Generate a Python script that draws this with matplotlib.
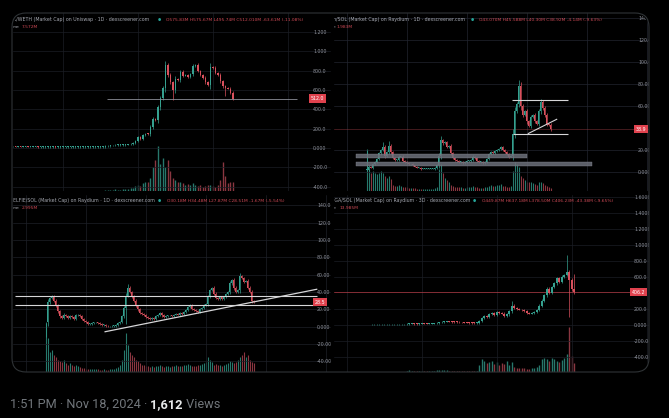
import numpy as np
import matplotlib
matplotlib.use("Agg")
import matplotlib.pyplot as plt
from matplotlib.patches import Rectangle, FancyBboxPatch, Polygon
from matplotlib.transforms import blended_transform_factory

W, H = 669, 418

# ---- panel 1: K/WETH, market cap in M ----
p1_close = [16, 15, 15, 14, 14, 14, 13, 13, 13, 13, 12, 12, 12, 12, 12, 12, 12, 11, 11, 11,
            11, 11, 11, 11, 11, 11, 11, 11, 11, 11, 11, 11, 11, 11, 11, 12, 12,
            18, 22, 26, 28, 30, 31, 32, 33, 35, 38, 42,
            55, 75, 110, 95, 130, 150, 145, 220, 300, 290, 420, 520, 620, 860, 760, 680, 600,
            720, 700, 790, 750, 760, 740, 770, 850, 860, 800, 760, 730, 680, 650, 840, 830,
            780, 760, 690, 640, 620, 615, 575, 512]
p1_volume = [1, 1, 1, 1, 1, 1, 1, 1, 1, 1, 1, 1, 1, 1, 1, 1, 1, 1, 1, 1,
             1, 1, 1, 1, 1, 1, 1, 1, 1, 1, 1, 1, 1, 1, 1, 2, 2,
             3, 4, 4, 3, 5, 4, 4, 5, 6, 5, 7,
             8, 12, 15, 12, 18, 20, 22, 30, 55, 70, 100, 60, 75, 55, 70, 45, 30,
             25, 20, 22, 18, 15, 16, 14, 18, 15, 12, 14, 10, 12, 15, 14, 12,
             10, 15, 25, 65, 35, 18, 22, 20]
p1_wicks = {61: (905, None), 64: (None, 500), 85: (None, 540)}

# ---- panel 2: n/SOL ----
p2_close = [2, 5, 4, 7, 9, 12, 17, 20, 23, 15, 18, 24, 18, 13, 11, 11, 14, 14, 10, 9,
            8, 7, 7, 6, 5, 4, 4, 3, 3, 3, 3, 3, 3, 3, 4, 6, 15, 29, 26, 27,
            23, 24, 17, 13, 11, 10, 9, 9, 8, 9, 10, 10, 11, 14, 13, 10, 9, 9, 8, 9,
            12, 16, 18, 17, 19, 20, 21, 23, 20, 18, 16, 14, 15, 35, 55, 62, 78, 60, 52, 55,
            46, 42, 50, 52, 46, 44, 55, 64, 58, 52, 44, 43, 38.9]
p2_volume = [95, 50, 40, 45, 40, 38, 40, 45, 42, 35, 30, 35, 28, 15, 12, 12, 14, 12, 10, 9,
             9, 8, 8, 7, 7, 6, 6, 6, 5, 5, 5, 5, 6, 6, 7, 10, 50, 60, 40, 30,
             25, 20, 15, 12, 10, 10, 9, 9, 8, 8, 9, 9, 10, 12, 11, 9, 8, 8, 8, 9,
             11, 13, 14, 12, 13, 14, 15, 16, 13, 12, 10, 9, 12, 45, 65, 60, 55, 35, 30, 25,
             22, 20, 22, 18, 16, 15, 20, 22, 18, 15, 12, 10, 8]
p2_wicks = {0: (20, None), 8: (27, None), 11: (28, None), 37: (33, None), 76: (84, None)}

# ---- panel 3: ELFIE/SOL ----
p3_close = [5, 28, 33, 35, 30, 24, 18, 12, 10, 14, 12, 10, 12, 11, 9, 13, 14, 12, 9, 7,
            5, 3, 3, 4, 5, 5, 4, 3, 2, 2, 1, 0.5, 0.5, 1, 1, 2, 4, 6, 12, 22,
            36, 45, 40, 35, 30, 24, 20, 16, 15, 13, 11, 10, 9, 10, 9, 12, 14, 16, 13, 11,
            12, 13, 13, 12, 14, 15, 14, 16, 15, 17, 19, 23, 25, 21, 19, 18, 17, 20, 22, 25,
            26, 35, 42, 45, 38, 33, 32, 34, 32, 34, 38, 40, 50, 54, 45, 40, 42, 58, 56, 52,
            53, 45, 40, 30, 28.5]
p3_volume = [100, 70, 40, 45, 35, 30, 25, 22, 20, 25, 18, 15, 18, 15, 12, 14, 12, 10, 8, 8,
             7, 7, 6, 6, 7, 6, 6, 5, 5, 6, 5, 5, 6, 6, 7, 8, 10, 15, 25, 45,
             80, 55, 40, 35, 30, 25, 22, 18, 15, 14, 12, 12, 11, 12, 10, 12, 13, 14, 12, 11,
             12, 13, 11, 12, 13, 14, 12, 13, 12, 14, 15, 16, 14, 13, 12, 12, 14, 15, 16, 18,
             20, 30, 25, 20, 15, 16, 14, 15, 13, 14, 16, 18, 22, 20, 18, 20, 25, 30, 35, 40,
             30, 35, 25, 20, 18]
p3_wicks = {0: (None, -12), 40: (None, 3), 41: (49, None), 97: (62, None)}

# ---- panel 4: IGA/SOL ----
p4_close = [3, 3, 3, 3, 3, 3, 3, 3, 4, 4, 4, 5, 5, 6,
            10, 12, 12, 11, 10, 12, 14, 13, 12, 12,
            14, 18, 22, 28, 35, 40, 42, 38, 36, 35,
            32, 30, 28, 26, 25, 24, 23, 22, 24,
            45, 80, 110, 95, 130, 145, 120, 160, 150, 140,
            110, 130, 170, 240, 210, 200, 190, 180, 170, 150,
            140, 145, 165, 190, 240, 300, 370, 450, 400, 470,
            520, 580, 540, 600, 620, 660, 560, 450, 406]
p4_volume = [1, 1, 1, 1, 1, 1, 1, 1, 1, 1, 1, 1, 1, 1,
             3, 4, 3, 2, 2, 3, 3, 2, 2, 2,
             3, 3, 4, 4, 5, 5, 4, 3, 3, 3,
             2, 2, 2, 2, 2, 2, 2, 2, 3,
             15, 30, 25, 20, 22, 25, 18, 22, 15, 20,
             18, 25, 15, 22, 12, 10, 10, 8, 8, 6,
             6, 8, 10, 12, 15, 28, 32, 30, 25, 32,
             28, 24, 22, 26, 32, 40, 100, 35, 20]
p4_wicks = {56: (300, None), 78: (870, None), 79: (None, 100), 81: (637, 378)}

GREEN, RED = "#35a08f", "#d8505c"
VGREEN, VRED = "#27786c", "#8a3640"

fig = plt.figure(figsize=(W / 100, H / 100), dpi=100, facecolor="black")


def panel(box, bg, grid, close, volume, wicks, x_first, step, ylim, ticks, labels,
          label_x, last_text, vol_px):
    x0, y0, x1, y1 = box
    rect = [x0 / W, 1 - y1 / H, (x1 - x0) / W, (y1 - y0) / H]
    xlim = ((x0 - x_first) / step, (x1 - x_first) / step)

    vax = fig.add_axes(rect)
    vax.set_facecolor(bg)
    ax = fig.add_axes(rect)
    ax.patch.set_alpha(0)

    n = len(close)
    x = np.arange(n)
    c = np.array(close, dtype=float)
    o = np.concatenate([[c[0]], c[:-1]])
    up = c >= o
    span = ylim[1] - ylim[0]
    hi = np.maximum(o, c) + 0.15 * np.abs(c - o) + 0.004 * span
    lo = np.minimum(o, c) - 0.15 * np.abs(c - o) - 0.004 * span
    for k, (h, l) in wicks.items():
        if h is not None:
            hi[k] = h
        if l is not None:
            lo[k] = l
    cols = [GREEN if u else RED for u in up]
    vcols = [VGREEN if u else VRED for u in up]

    # volume as thin vertical segments so narrow bars keep their colour
    vax.vlines(x, 0, volume, colors=vcols, linewidth=step * 0.55 * 0.72)
    vax.set_xlim(xlim)
    vax.set_ylim(0, 100 * (y1 - y0) / vol_px)
    vax.axis("off")

    ax.vlines(x, lo, hi, colors=cols, linewidth=0.5, zorder=3)
    body = np.maximum(np.abs(c - o), 0.004 * span)
    ax.bar(x, body, bottom=np.minimum(o, c), width=0.7, color=cols, linewidth=0, zorder=4)

    ax.set_yticks(ticks)
    ax.set_yticklabels(labels)
    ax.set_xticks(np.arange(-40, 200, 30))
    ax.set_xlim(xlim)
    ax.set_ylim(ylim)
    ax.yaxis.tick_right()
    ax.tick_params(axis="y", length=0, pad=-(x1 - label_x) * 0.72,
                   labelsize=3.4, labelcolor="#8f929b")
    ax.tick_params(axis="x", length=0, labelbottom=False)
    ax.grid(True, color=grid, linewidth=0.5)
    ax.set_axisbelow(True)
    for s in ax.spines.values():
        s.set_visible(False)

    tr = blended_transform_factory(ax.transAxes, ax.transData)
    ax.text((label_x - 2 - x0) / (x1 - x0), close[-1], last_text, transform=tr,
            ha="left", va="center", fontsize=3.4, color="white", zorder=6,
            bbox=dict(boxstyle="square,pad=0.35", fc="#e0424e", ec="none"))
    return ax


ax1 = panel((12, 13, 331, 191.5), "#131419", "#1b1d24", p1_close, p1_volume, p1_wicks,
            13, 2.5, (-451, 1399), list(range(-400, 1201, 200)),
            ["-400.0", "-200.0", "0.000", "200.0", "400.0", "600.0", "800.0", "1.000", "1.200"],
            313, "512.0", 45)
ax1.hlines(512, 37.6, 113.6, color="#8b8e97", linewidth=0.6, zorder=5)

ax2 = panel((333, 13, 649, 191.5), "#191c27", "#22252f", p2_close, p2_volume, p2_wicks,
            366.7, 2.0, (-17.7, 144.5), [0, 20, 60, 80, 100, 120, 140],
            ["0.000", "20.00", "60.00", "80.00", "100.0", "120.0", "140.0"],
            638, "38.9", 45)
ax2.axhline(38.9, color="#a8404a", linewidth=0.4, alpha=0.7, zorder=2)
ax2.add_patch(Rectangle((-5.3, 13.1), 85.6, 3.4, fc="#6c6f7a", ec="#8a8d96",
                        linewidth=0.3, alpha=0.85, zorder=5))
ax2.add_patch(Rectangle((-5.3, 5.8), 117.8, 3.6, fc="#6c6f7a", ec="#8a8d96",
                        linewidth=0.3, alpha=0.85, zorder=5))
ax2.hlines([65, 35], [72.5, 73], [100.8, 100.8], color="#d6d6d8", linewidth=0.8, zorder=5)
ax2.plot([80.8, 95], [35, 47.9], color="#d6d6d8", linewidth=0.8, zorder=5)

ax3 = panel((12, 194, 331, 372), "#16181f", "#1e2028", p3_close, p3_volume, p3_wicks,
            45.7, 2.0, (-52.3, 153.2), list(range(-40, 141, 20)),
            ["-40.00", "-20.00", "0.000", "20.00", "40.00", "60.00", "80.00", "100.0",
             "120.0", "140.0"],
            317, "28.5", 49)
ax3.hlines([35.8, 25.4], -15.4, 135.5, color="#d6d6d8", linewidth=0.8, zorder=5)
ax3.plot([29.7, 135.5], [-5.8, 43.2], color="#d6d6d8", linewidth=0.9, zorder=5)

ax4 = panel((333, 194, 649, 372), "#131419", "#1b1d24", p4_close, p4_volume, p4_wicks,
            371.7, 2.5, (-591, 1634), [-400, -200, 0, 200, 600, 800, 1000, 1200, 1400, 1600],
            ["-400.0", "-200.0", "0.000", "200.0", "600.0", "800.0", "1.000B", "1.200B",
             "1.400B", "1.600B"],
            634, "406.2", 45)
ax4.axhline(406, xmax=(633 - 333) / (649 - 333), color="#b8404b", linewidth=0.5, zorder=2)

# ---- overlay: titles, masks, frame, footer ----
ov = fig.add_axes([0, 0, 1, 1], zorder=10)
ov.set_xlim(0, W)
ov.set_ylim(H, 0)
ov.axis("off")
ov.patch.set_alpha(0)

TGREY, TRED = "#a5a8b1", "#cf4a56"
titles = [
    (13, 20, "K/WETH (Market Cap) on Uniswap · 1D · dexscreener.com", 159, 166,
     "O575.83M H575.67M L495.74M C512.010M -63.61M (-11.08%)", "me", 22, "7.572M"),
    (333, 20, "n/SOL (Market Cap) on Raydium · 1D · dexscreener.com", 472, 479,
     "O43.070M H45.588M L40.30M C38.92M -4.14M (-9.63%)", "e", 337, "1.983M"),
    (13, 200.7, "ELFIE/SOL (Market Cap) on Raydium · 1D · dexscreener.com", 159, 167,
     "O30.18M H34.48M L27.87M C28.51M -1.67M (-5.54%)", "me", 22, "2.995M"),
    (333, 200.7, "IGA/SOL (Market Cap) on Raydium · 3D · dexscreener.com", 474, 482,
     "O449.87M H637.18M L378.50M C406.23M -43.38M (-9.65%)", "le", 340, "13.985M"),
]
for tx, ty, name, dx, ox, ohlc, vname, vx, vval in titles:
    ov.text(tx, ty, name, fontsize=3.4, color=TGREY, va="center", ha="left")
    ov.text(dx, ty, "●", fontsize=2.6, color="#26a69a", va="center", ha="center")
    ov.text(ox, ty, ohlc, fontsize=3.2, color=TRED, va="center", ha="left")
    ov.text(tx, ty + 7.3, vname, fontsize=3.2, color=TGREY, va="center", ha="left")
    ov.text(vx, ty + 7.3, vval, fontsize=3.2, color=TRED, va="center", ha="left")

# gaps between panels and the area outside the frame
ov.add_patch(Rectangle((331, 10), 2, 365, color="black", zorder=3))
ov.add_patch(Rectangle((10, 191.5), 642, 2.5, color="black", zorder=3))
ov.add_patch(Rectangle((649, 0), 20, 380, color="black", zorder=3))
ov.add_patch(Rectangle((0, 0), 12, 380, color="black", zorder=3))

R = 14
for cx, cy, sx, sy in [(12, 13, 1, 1), (649, 13, -1, 1), (12, 372, 1, -1), (649, 372, -1, -1)]:
    a = np.linspace(0, np.pi / 2, 20)
    px = cx + sx * R - sx * R * np.cos(a)
    py = cy + sy * R - sy * R * np.sin(a)
    pts = [(cx, cy)] + list(zip(px, py))
    ov.add_patch(Polygon(pts, closed=True, color="black", zorder=4))

ov.add_patch(FancyBboxPatch((12, 13), 637, 359, boxstyle="round,pad=0,rounding_size=14",
                            fc="none", ec="#2f3336", linewidth=0.8, zorder=5))

t1 = ov.text(10, 408, "1:51 PM · Nov 18, 2024 ·", fontsize=9.2, family="Roboto",
             color="#71767b", va="baseline", ha="left")
t2 = ov.annotate(" 1,612", xy=(1, 0), xycoords=t1, fontsize=9.2, family="Roboto",
                 fontweight="bold", color="#e7e9ea", va="bottom", ha="left")
ov.annotate(" Views", xy=(1, 0), xycoords=t2, fontsize=9.2, family="Roboto",
            color="#71767b", va="bottom", ha="left")

fig.savefig("out.png", dpi=100, facecolor="black")
